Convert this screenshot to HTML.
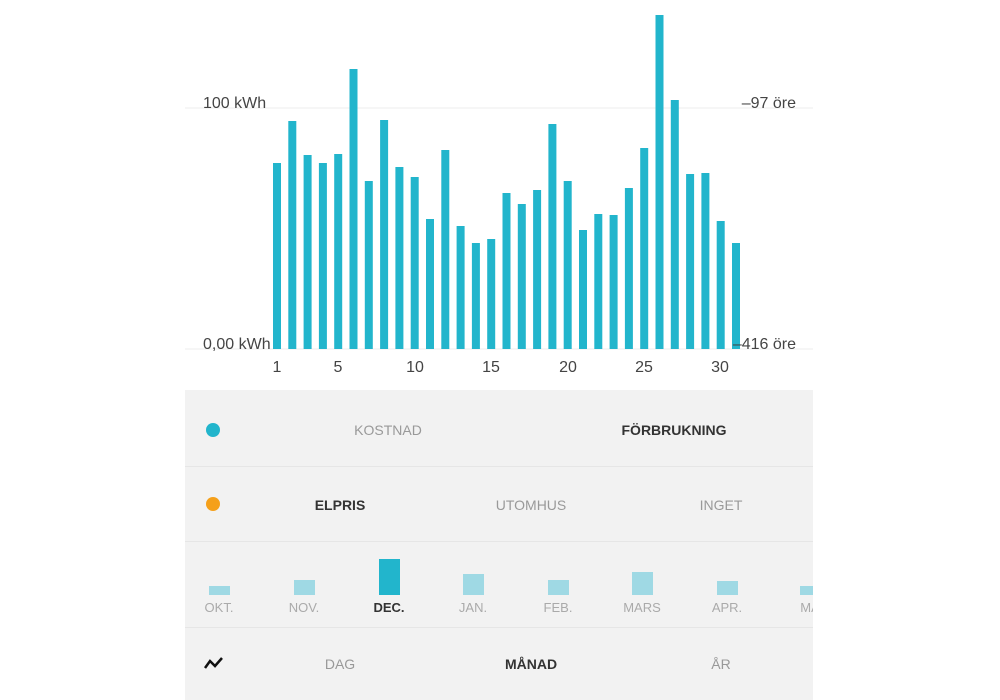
<!DOCTYPE html>
<html><head><meta charset="utf-8"><style>
body{margin:0;width:1000px;height:700px;background:#fff;font-family:"Liberation Sans",sans-serif;position:relative;overflow:hidden}
.a{position:absolute}
.t{position:absolute;font-size:14px;color:#999;transform:translateX(-50%);white-space:nowrap}
.b{font-weight:bold;color:#333}
</style></head><body>
<svg class="a" style="left:0;top:0" width="1000" height="390">
<line x1="185" y1="108" x2="813" y2="108" stroke="#eee"/>
<line x1="185" y1="349" x2="813" y2="349" stroke="#eee"/>
<g fill="#22b5cc" id="bars"></g>
<g font-family="Liberation Sans" font-size="16" fill="#444">
<text x="203" y="108">100 kWh</text>
<text x="203" y="349">0,00 kWh</text>
<text x="796" y="108" text-anchor="end">–97 öre</text>
<text x="796" y="349" text-anchor="end">–416 öre</text>
<g text-anchor="middle"><text x="277" y="372">1</text><text x="338" y="372">5</text><text x="415" y="372">10</text><text x="491" y="372">15</text><text x="568" y="372">20</text><text x="644" y="372">25</text><text x="720" y="372">30</text></g>
</g>
</svg>
<div class="a" style="left:185px;top:390px;width:628px;height:310px;background:#f2f2f2"></div>
<div class="a" style="left:185px;top:466px;width:628px;height:1px;background:#e6e6e6"></div>
<div class="a" style="left:185px;top:541px;width:628px;height:1px;background:#e6e6e6"></div>
<div class="a" style="left:185px;top:627px;width:628px;height:1px;background:#e6e6e6"></div>
<div class="a" style="left:206px;top:423px;width:14px;height:14px;border-radius:50%;background:#22b5cc"></div>
<div class="a" style="left:206px;top:497px;width:14px;height:14px;border-radius:50%;background:#f5a01a"></div>
<div class="t" style="left:388px;top:422px">KOSTNAD</div>
<div class="t b" style="left:674px;top:422px">FÖRBRUKNING</div>
<div class="t b" style="left:340px;top:497px">ELPRIS</div>
<div class="t" style="left:531px;top:497px">UTOMHUS</div>
<div class="t" style="left:721px;top:497px">INGET</div>
<div id="m"></div>
<svg class="a" style="left:203px;top:656px" width="22" height="14"><polyline points="2,12 7,5 12,10 19,2" fill="none" stroke="#111" stroke-width="2.5"/></svg>
<div class="t" style="left:340px;top:656px">DAG</div>
<div class="t b" style="left:531px;top:656px">MÅNAD</div>
<div class="t" style="left:721px;top:656px">ÅR</div>
<script>
var h=[163,121,155,163,154,69,181,120,167,177,219,150,226,243,239,193,204,190,124,181,230,214,215,188,148,15,100,174,173,221,243];
var g=document.getElementById('bars'),s='';
h.forEach(function(y,i){var x=277+i*15.3;s+='<rect x="'+(x-4)+'" y="'+y+'" width="8" height="'+(349-y)+'"/>';});
g.innerHTML=s;
var m=[['OKT.',219,586],['NOV.',304,580],['DEC.',389,559],['JAN.',473,574],['FEB.',558,580],['MARS',642,572],['APR.',727,581],['MA',810,586]],o='';
m.forEach(function(a,i){var sel=i==2;o+='<div class="a" style="left:'+(a[1]-10)+'px;top:'+a[2]+'px;width:21px;height:'+(595-a[2])+'px;background:'+(sel?'#22b5cc':'#9fd9e4')+'"></div><div class="t'+(sel?' b':'')+'" style="left:'+a[1]+'px;top:600px;font-size:13px;color:'+(sel?'#333':'#aaa')+'">'+a[0]+'</div>';});
o+='<div class="a" style="left:813px;top:540px;width:187px;height:100px;background:#fff"></div>';
document.getElementById('m').innerHTML=o;
</script>
</body></html>
